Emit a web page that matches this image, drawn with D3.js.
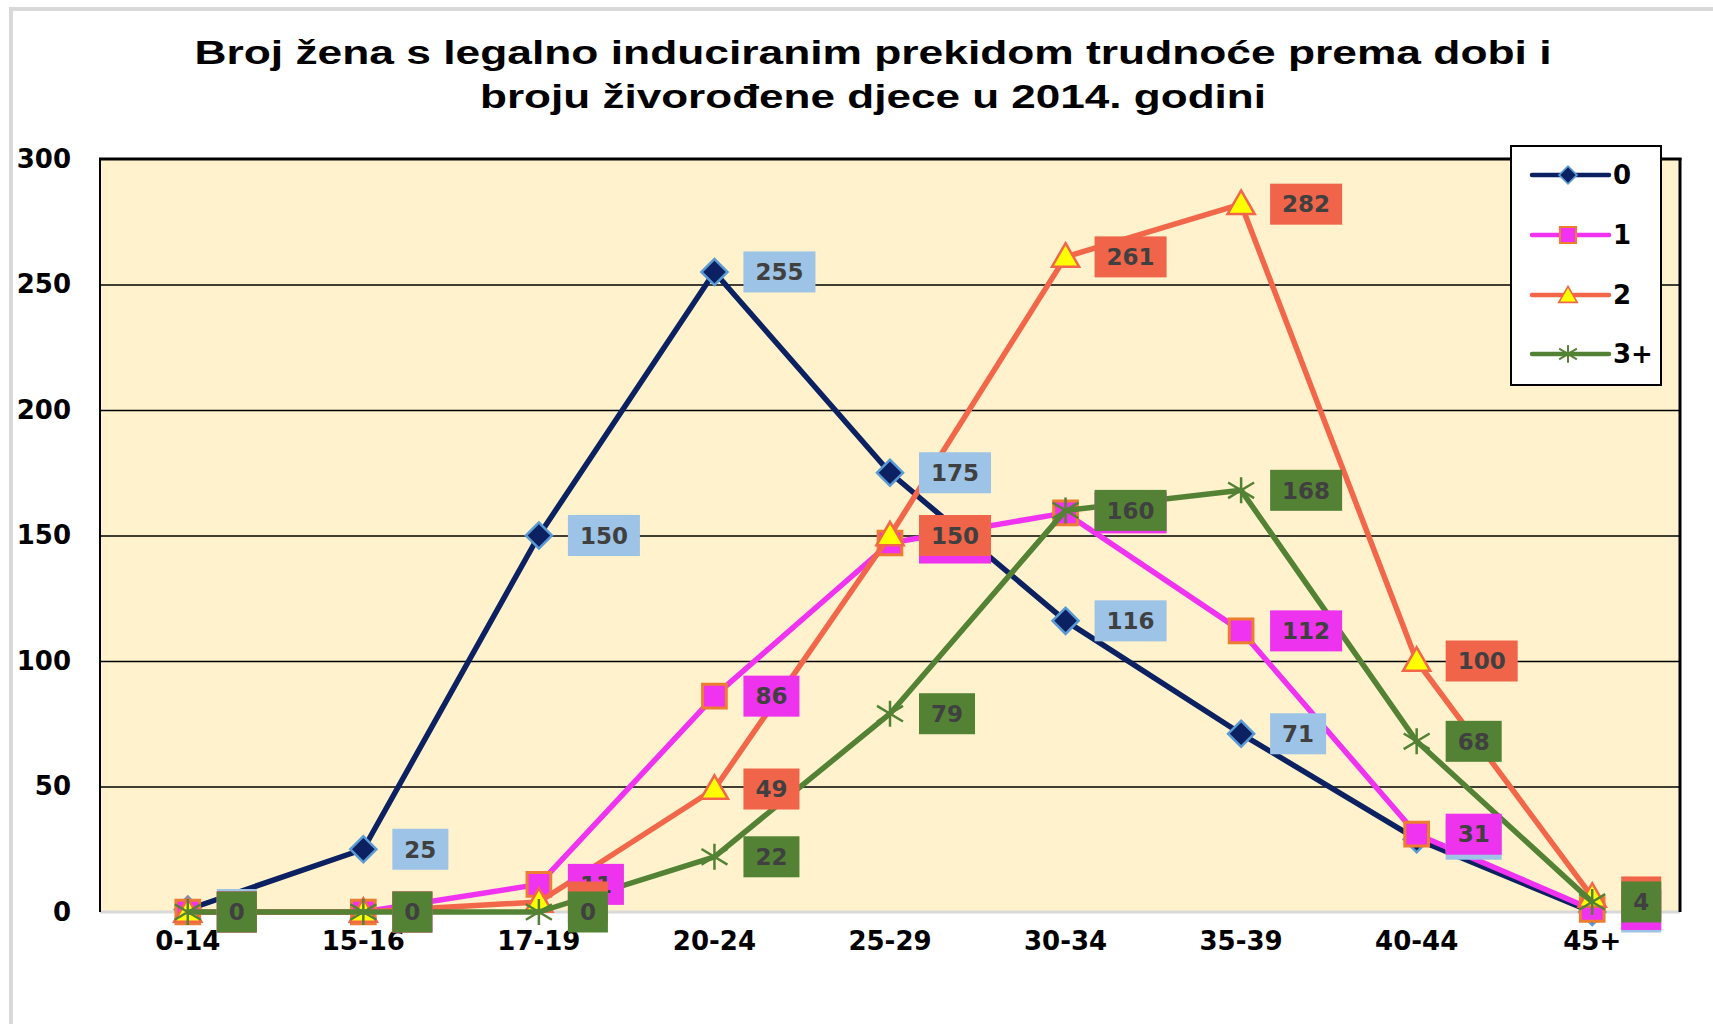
<!DOCTYPE html>
<html>
<head>
<meta charset="utf-8">
<script src="https://cdn.jsdelivr.net/npm/d3@7"></script>
<style>
  body { margin: 0; background: #fff; }
  svg { display: block; }
</style>
</head>
<body>
<svg id="chart" width="1713" height="1024"></svg>
<script>
var categories = ['0-14', '15-16', '17-19', '20-24', '25-29', '30-34', '35-39', '40-44', '45+']
var seriesNames = ['0', '1', '2', '3+']
var values0 = [1, 25, 150, 255, 175, 116, 71, 29, 0]
var values1 = [0, 0, 11, 86, 147, 159, 112, 31, 1]
var values2 = [0, 0, 4, 49, 150, 261, 282, 100, 6]
var values3 = [0, 0, 0, 22, 79, 160, 168, 68, 4]
var yTicks = [0, 50, 100, 150, 200, 250, 300]
var titleLines = ['Broj žena s legalno induciranim prekidom trudnoće prema dobi i', 'broju živorođene djece u 2014. godini']

;(function () {
  'use strict'

  var plot = { left: 100, right: 1680, top: 159, bottom: 912 }
  var svg = d3.select('#chart')

  // style of every series, in draw order
  var styles = [
    { line: '#0B2161', fill: '#0B2161', stroke: '#5B9BD5', label: '#9DC3E6', shape: 'diamond' },
    { line: '#F033F0', fill: '#F033F0', stroke: '#ED7D31', label: '#EE33EE', shape: 'square' },
    { line: '#F2674A', fill: '#FFFF00', stroke: '#F2674A', label: '#F0654A', shape: 'triangle' },
    { line: '#548235', fill: 'none', stroke: '#548235', label: '#548235', shape: 'star' }
  ]
  var series = [values0, values1, values2, values3].map(function (vals, i) {
    return { name: seriesNames[i], style: styles[i], values: vals.map(function (v, j) { return { cat: categories[j], v: v } }) }
  })

  var x = d3.scaleBand().domain(categories).range([plot.left, plot.right]).padding(0)
  var y = d3.scaleLinear().domain([0, 300]).range([plot.bottom, plot.top])
  function cx(d) { return x(d.cat) + x.bandwidth() / 2 }

  // outer chart frame
  svg.append('rect').attr('x', 11).attr('y', 9).attr('width', 1800).attr('height', 1100)
    .attr('fill', '#fff').attr('stroke', '#D9D9D9').attr('stroke-width', 4)

  // title
  var title = svg.append('g').attr('font-family', '"Liberation Sans", Arial, sans-serif').attr('font-weight', 'bold')
    .attr('font-size', 34).attr('fill', '#000')
  var titleWidths = [1357, 786]
  var titleBase = [64, 108]
  titleLines.forEach(function (t, i) {
    title.append('text').attr('x', 873).attr('y', titleBase[i]).attr('text-anchor', 'middle')
      .attr('textLength', titleWidths[i]).attr('lengthAdjust', 'spacingAndGlyphs').text(t)
  })

  // plot area
  svg.append('rect').attr('x', plot.left).attr('y', plot.top)
    .attr('width', plot.right - plot.left).attr('height', plot.bottom - plot.top).attr('fill', '#FFF2CC')

  var yAxis = svg.append('g').attr('transform', 'translate(' + plot.left + ',0)')
    .call(d3.axisLeft(y).tickValues(yTicks).tickSize(-(plot.right - plot.left)).tickPadding(29))
  yAxis.select('.domain').remove()
  yAxis.selectAll('line').attr('stroke', '#000').attr('stroke-width', 1.3)
    .filter(function (d) { return d === 0 || d === 300 }).remove()
  yAxis.selectAll('text').attr('font-family', '"DejaVu Sans", sans-serif').attr('font-weight', 'bold')
    .attr('font-size', 26).attr('fill', '#000')

  // borders
  svg.append('line').attr('x1', plot.left).attr('x2', plot.right).attr('y1', plot.bottom).attr('y2', plot.bottom)
    .attr('stroke', '#D9D9D9').attr('stroke-width', 3)
  svg.append('line').attr('x1', plot.left).attr('x2', plot.left).attr('y1', plot.top).attr('y2', plot.bottom)
    .attr('stroke', '#000').attr('stroke-width', 2)
  svg.append('line').attr('x1', plot.right).attr('x2', plot.right).attr('y1', plot.top - 1).attr('y2', plot.bottom)
    .attr('stroke', '#000').attr('stroke-width', 3)
  svg.append('line').attr('x1', plot.left - 1).attr('x2', plot.right + 1.5).attr('y1', plot.top).attr('y2', plot.top)
    .attr('stroke', '#000').attr('stroke-width', 3)

  var xAxis = svg.append('g').attr('transform', 'translate(0,' + plot.bottom + ')')
    .call(d3.axisBottom(x).tickSize(0).tickPadding(20))
  xAxis.select('.domain').remove()
  xAxis.selectAll('text').attr('font-family', '"DejaVu Sans", sans-serif').attr('font-weight', 'bold')
    .attr('font-size', 26).attr('fill', '#000')

  function marker(sel, st, scale) {
    var k = scale || 1
    if (st.shape === 'diamond') {
      sel.append('path').attr('d', d3.symbol(d3.symbolSquare, 340 * k * k)()).attr('transform', 'rotate(45)')
        .attr('fill', st.fill).attr('stroke', st.stroke).attr('stroke-width', 2.5 * k)
    } else if (st.shape === 'square') {
      sel.append('path').attr('d', d3.symbol(d3.symbolSquare, 560 * k * k)())
        .attr('fill', st.fill).attr('stroke', st.stroke).attr('stroke-width', 3 * k)
    } else if (st.shape === 'triangle') {
      sel.append('path').attr('d', d3.symbol(d3.symbolTriangle, 320 * k * k)()).attr('transform', 'translate(0,2)')
        .attr('fill', st.fill).attr('stroke', st.stroke).attr('stroke-width', 2.5 * k)
    } else {
      var r = 13 * k
      sel.append('path').attr('d', 'M0,' + (-r) + 'L0,' + r + 'M' + (-r) + ',' + (-r * 0.6) + 'L' + r + ',' + (r * 0.6) +
        'M' + (-r) + ',' + (r * 0.6) + 'L' + r + ',' + (-r * 0.6))
        .attr('fill', 'none').attr('stroke', st.stroke).attr('stroke-width', 2.5 * Math.max(k, 0.8))
    }
  }

  var line = d3.line().x(cx).y(function (d) { return y(d.v) })

  series.forEach(function (s) {
    var g = svg.append('g')
    g.append('path').datum(s.values).attr('d', line).attr('fill', 'none')
      .attr('stroke', s.style.line).attr('stroke-width', 5.5).attr('stroke-linejoin', 'round')
    g.selectAll('.mk').data(s.values).enter().append('g').attr('class', 'mk')
      .attr('transform', function (d) { return 'translate(' + cx(d) + ',' + y(d.v) + ')' })
      .each(function () { marker(d3.select(this), s.style) })
  })

  // data labels above all lines
  series.forEach(function (s) {
    var lab = svg.append('g').selectAll('g').data(s.values).enter().append('g')
      .attr('transform', function (d) { return 'translate(' + (cx(d) + 29) + ',' + y(d.v) + ')' })
    var rect = lab.append('rect').attr('y', -20.5).attr('height', 41).attr('fill', s.style.label)
    lab.append('text').attr('x', 12).attr('dy', '0.36em')
      .attr('font-family', '"DejaVu Sans", Verdana, sans-serif').attr('font-weight', 'bold')
      .attr('font-size', 23).attr('fill', '#404040').text(function (d) { return d.v })
    rect.attr('width', function () { return this.parentNode.querySelector('text').getComputedTextLength() + 24 })
  })

  // legend
  var legend = svg.append('g')
  legend.append('rect').attr('x', 1511).attr('y', 146).attr('width', 150).attr('height', 239)
    .attr('fill', '#fff').attr('stroke', '#000').attr('stroke-width', 2)
  var rows = [175, 235, 295, 354]
  series.forEach(function (s, i) {
    var row = legend.append('g').attr('transform', 'translate(0,' + rows[i] + ')')
    row.append('line').attr('x1', 1532).attr('x2', 1609).attr('stroke', s.style.line).attr('stroke-width', 4.5)
      .attr('stroke-linecap', 'round')
    var mk = row.append('g').attr('transform', 'translate(1568,0)')
    marker(mk, s.style, 0.68)
    row.append('text').attr('x', 1613).attr('dy', '0.36em').attr('font-family', '"DejaVu Sans", sans-serif')
      .attr('font-weight', 'bold').attr('font-size', 26).attr('fill', '#000').text(s.name)
  })
})()
</script>
</body>
</html>
